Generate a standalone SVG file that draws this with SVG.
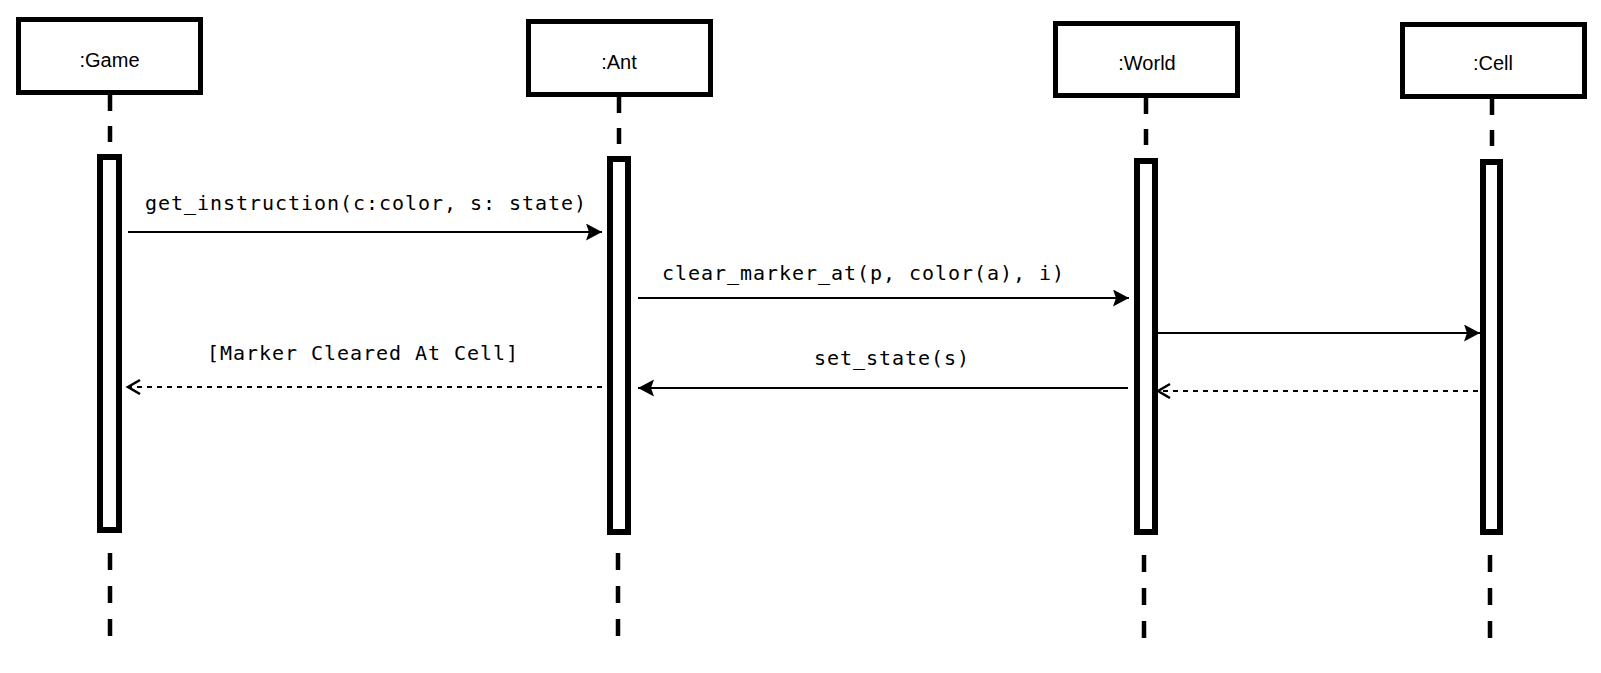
<svg xmlns="http://www.w3.org/2000/svg" width="1601" height="673" viewBox="0 0 1601 673">
<style>
.box{fill:#fff;stroke:#000;stroke-width:5}
.act{fill:#fff;stroke:#000;stroke-width:6}
.life{stroke:#000;stroke-width:4.5;fill:none}
.top{stroke-dasharray:16 15}
.bot{stroke-dasharray:17 16}
.name{font-family:"Liberation Sans",Arial,sans-serif;font-size:20px;fill:#000;text-anchor:middle}
.msg{font-family:"DejaVu Sans Mono","Liberation Mono",monospace;font-size:20px;letter-spacing:0.96px;fill:#000}
.call{stroke:#000;stroke-width:2;fill:none;marker-end:url(#filled)}
.ret{stroke:#000;stroke-width:2;fill:none;stroke-dasharray:5 5;marker-end:url(#open)}
</style>
<defs>
<marker id="filled" markerUnits="userSpaceOnUse" markerWidth="18" markerHeight="18" refX="16" refY="8.5" orient="auto">
<path d="M0,0 L16,8.5 L0,17 L3,8.5 z" fill="#000"/>
</marker>
<marker id="open" markerUnits="userSpaceOnUse" markerWidth="16" markerHeight="18" refX="13" refY="8" orient="auto">
<path d="M1,1 L13,8 L1,15" fill="none" stroke="#000" stroke-width="2.5"/>
</marker>
</defs>
<rect width="1601" height="673" fill="#fff"/>
<g id="lifelines">
<line class="life top" x1="110" y1="95" x2="110" y2="154"/>
<line class="life bot" x1="110" y1="553" x2="110" y2="636"/>
<line class="life top" x1="619" y1="97" x2="619" y2="156"/>
<line class="life bot" x1="618" y1="553" x2="618" y2="636"/>
<line class="life top" x1="1146" y1="98" x2="1146" y2="158"/>
<line class="life bot" x1="1144" y1="555" x2="1144" y2="638"/>
<line class="life top" x1="1492" y1="99" x2="1492" y2="159"/>
<line class="life bot" x1="1490" y1="555" x2="1490" y2="638"/>
</g>
<g id="game">
<rect class="box" x="18.5" y="19.5" width="182" height="73"/>
<text class="name" x="109.5" y="67">:Game</text>
<rect class="act" x="100" y="157" width="19" height="373"/>
</g>
<g id="ant">
<rect class="box" x="528.5" y="21.5" width="182" height="73"/>
<text class="name" x="619" y="69">:Ant</text>
<rect class="act" x="610" y="159" width="18" height="373"/>
</g>
<g id="world">
<rect class="box" x="1055.5" y="23.5" width="182" height="72"/>
<text class="name" x="1147" y="70">:World</text>
<rect class="act" x="1137" y="161" width="18" height="371"/>
</g>
<g id="cell">
<rect class="box" x="1402.5" y="24.5" width="182" height="72"/>
<text class="name" x="1493" y="70">:Cell</text>
<rect class="act" x="1483" y="162" width="17" height="370"/>
</g>
<g id="connectors">
<line class="call" x1="128" y1="232" x2="602" y2="232"/>
<text class="msg" x="145" y="210">get_instruction(c:color, s: state)</text>
<line class="call" x1="638" y1="298" x2="1129" y2="298"/>
<text class="msg" x="662" y="280">clear_marker_at(p, color(a), i)</text>
<line class="call" x1="1158" y1="333" x2="1480" y2="333"/>
<line class="ret" x1="602" y1="387" x2="128" y2="387"/>
<text class="msg" x="207" y="360">[Marker Cleared At Cell]</text>
<line class="call" x1="1128" y1="388" x2="638" y2="388"/>
<text class="msg" x="814" y="365">set_state(s)</text>
<line class="ret" x1="1478" y1="391" x2="1158" y2="391"/>
</g>
</svg>
